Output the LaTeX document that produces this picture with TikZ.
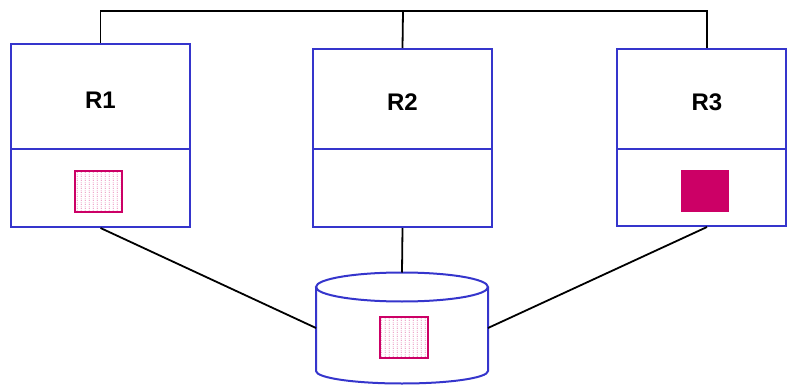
\documentclass[tikz,border=0pt]{standalone}
\usepackage{fontspec}
\setmainfont{Liberation Sans}
\usetikzlibrary{patterns}
\definecolor{bl}{HTML}{3535CC}
\definecolor{mg}{HTML}{CC0066}
\pgfdeclarepatternformonly{mydots}{\pgfqpoint{0pt}{0pt}}{\pgfqpoint{4pt}{4pt}}{\pgfqpoint{4pt}{4pt}}{%
  \pgfpathrectangle{\pgfqpoint{1pt}{0.5pt}}{\pgfqpoint{1pt}{1pt}}%
  \pgfpathrectangle{\pgfqpoint{1pt}{2.5pt}}{\pgfqpoint{0.8pt}{0.8pt}}%
  \pgfusepath{fill}}
\tikzset{
  box/.style={draw=bl, line width=2pt, rectangle, inner sep=0pt},
  conn/.style={draw=black, line width=1.8pt},
  lbl/.style={font=\fontsize{24}{26}\selectfont\bfseries},
  dotsq/.style={draw=mg, line width=2pt, pattern=mydots, pattern color=mg!80},
  solsq/.style={fill=mg}
}
\begin{document}
\begin{tikzpicture}[x=1pt,y=-1pt]
\useasboundingbox (0,0) rectangle (787,385);
% R1
\node[box, minimum width=179pt, minimum height=105pt] (r1t) at (100.5,96.5) {};
\node[box, minimum width=179pt, minimum height=78pt] (r1b) at (100.5,188) {};
\node[lbl] (l1) at (100.5,100) {R1};
\node[dotsq, minimum width=47pt, minimum height=41pt] (s1) at (98,191) {};
% R2
\node[box, minimum width=179pt, minimum height=100pt] (r2t) at (402.5,99) {};
\node[box, minimum width=179pt, minimum height=78pt] (r2b) at (402.5,188) {};
\node[lbl] (l2) at (402.5,102) {R2};
% R3
\node[box, minimum width=169pt, minimum height=100pt] (r3t) at (701.5,99) {};
\node[box, minimum width=169pt, minimum height=77pt] (r3b) at (701.5,187.5) {};
\node[lbl] (l3) at (707,102) {R3};
\node[solsq, minimum width=48pt, minimum height=42pt, inner sep=0pt] (s3) at (705,191) {};
% cylinder
\draw[draw=bl, line width=2pt, fill=white] (316,287) -- (316,371) arc[start angle=180, end angle=0, x radius=86, y radius=12.5] -- (488,287);
\draw[draw=bl, line width=2pt] (402,287) ellipse[x radius=86, y radius=14.5];
\coordinate (cl) at (316,328);
\coordinate (cr) at (488,328);
\coordinate (ct) at (402,272.5);
\node[dotsq, minimum width=48pt, minimum height=41pt] (sc) at (403.5,337) {};
% connectors
\coordinate (top) at (403,11);
\draw[conn] (r1t.north) |- (top) -| (r3t.north -| 707,0);
\draw[conn] (top) -- (r2t.north);
\draw[conn] (r1b.south) -- (cl);
\draw[conn] (r2b.south) -- (ct);
\draw[conn] (r3b.south -| 707,0) -- (cr);
\end{tikzpicture}
\end{document}
